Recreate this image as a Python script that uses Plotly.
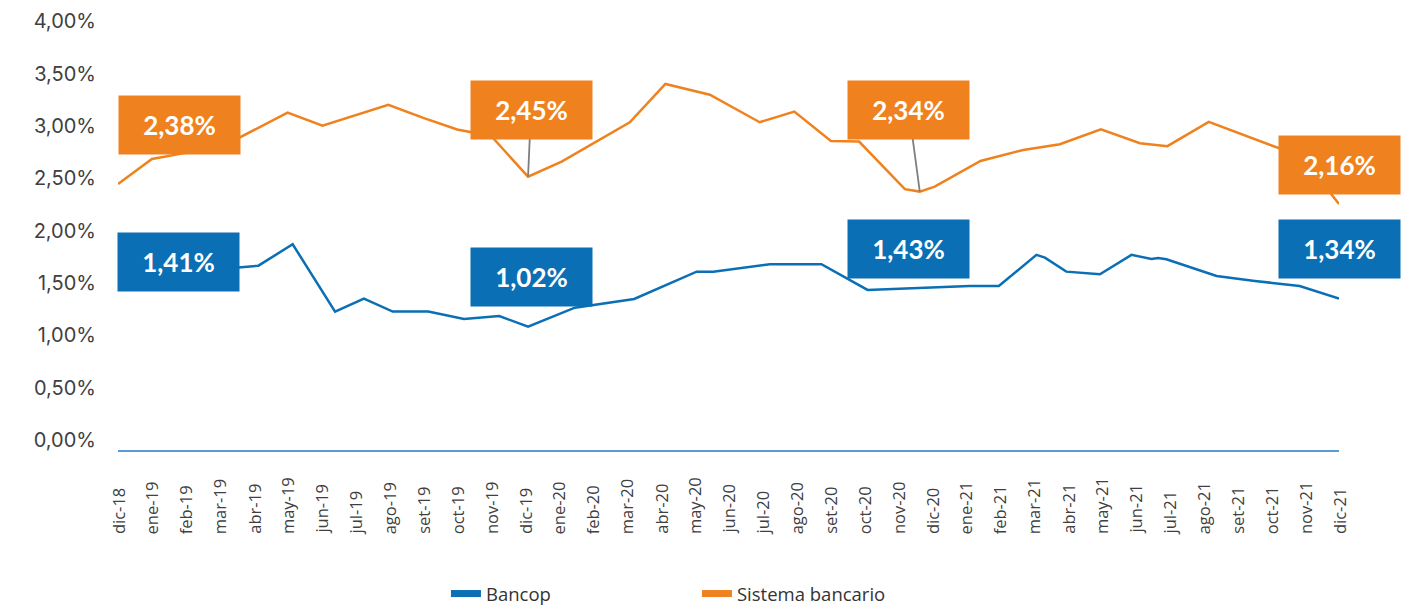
import plotly.graph_objects as go

# ---------------------------------------------------------------
# Data (percent values, x in months since dic-18)
# ---------------------------------------------------------------
month_labels = ['dic-18', 'ene-19', 'feb-19', 'mar-19', 'abr-19', 'may-19', 'jun-19',
                'jul-19', 'ago-19', 'set-19', 'oct-19', 'nov-19', 'dic-19', 'ene-20',
                'feb-20', 'mar-20', 'abr-20', 'may-20', 'jun-20', 'jul-20', 'ago-20',
                'set-20', 'oct-20', 'nov-20', 'dic-20', 'ene-21', 'feb-21', 'mar-21',
                'abr-21', 'may-21', 'jun-21', 'jul-21', 'ago-21', 'set-21', 'oct-21',
                'nov-21', 'dic-21']

y_ticks = [0, 0.5, 1, 1.5, 2, 2.5, 3, 3.5, 4]
y_ticktext = ['0,00%', '0,50%', '1,00%', '1,50%', '2,00%', '2,50%', '3,00%', '3,50%', '4,00%']

bancop_x = [0, 1.2, 2.2, 3.2, 4.14, 5.15, 6.40, 7.25, 8.10, 9.15, 10.20, 11.24, 12.09,
            13.47, 15.22, 17.06, 17.55, 19.22, 20.74, 22.1, 25.11, 25.97, 27.08, 27.33,
            27.96, 28.95, 29.88, 30.47, 30.67, 30.91, 32.39, 33.52, 34.84, 36]
bancop_y = [1.50, 1.64, 1.62, 1.64, 1.666, 1.871, 1.227, 1.351, 1.227, 1.227, 1.157, 1.185,
            1.083, 1.265, 1.348, 1.609, 1.609, 1.680, 1.680, 1.434, 1.472, 1.472, 1.769,
            1.743, 1.609, 1.584, 1.769, 1.730, 1.740, 1.728, 1.568, 1.520, 1.472, 1.351]

sistema_x = [0, 1, 2, 3, 5.0, 6.03, 7.97, 9, 10, 11, 12.09, 13.08, 15.09, 16.14, 17.45,
             18.92, 19.94, 21.02, 21.85, 23.2, 23.64, 24.08, 25.43, 26.69, 27.77, 28.98,
             30.13, 30.94, 32.16, 34.9, 36]
sistema_y = [2.447, 2.686, 2.744, 2.792, 3.129, 3.005, 3.203, 3.078, 2.967, 2.906, 2.517,
             2.661, 3.037, 3.403, 3.300, 3.037, 3.139, 2.858, 2.852, 2.397, 2.374, 2.422,
             2.667, 2.772, 2.827, 2.970, 2.837, 2.808, 3.040, 2.708, 2.256]

# callout labels
callouts_bancop = ['1,41%', '1,02%', '1,43%', '1,34%']
callouts_sistema = ['2,38%', '2,45%', '2,34%', '2,16%']

BLUE = '#0A6FB4'
ORANGE = '#EF821E'

fig = go.Figure()

fig.add_trace(go.Scatter(x=bancop_x, y=bancop_y, mode='lines', name='Bancop',
                         line=dict(color=BLUE, width=2.5), showlegend=False))
fig.add_trace(go.Scatter(x=sistema_x, y=sistema_y, mode='lines', name='Sistema bancario',
                         line=dict(color=ORANGE, width=2.5), showlegend=False))

# legend swatches (thick bars like the original)
fig.add_trace(go.Scatter(x=[None], y=[None], mode='lines', name='Bancop',
                         line=dict(color=BLUE, width=7)))
fig.add_trace(go.Scatter(x=[None], y=[None], mode='lines', name='Sistema bancario',
                         line=dict(color=ORANGE, width=7)))

# callout boxes
box_font = dict(family='Lato', size=26, color='white', weight=700)
# (text, color, x, y, dx, dy, leader)
callout_specs = [
    (callouts_sistema[0], ORANGE, sistema_x[0], sistema_y[0], 61, -59, False),
    (callouts_bancop[0], BLUE, bancop_x[0], bancop_y[0], 60, -21, False),
    (callouts_sistema[1], ORANGE, sistema_x[10], sistema_y[10], 3, -67, True),
    (callouts_bancop[1], BLUE, bancop_x[12], bancop_y[12], 3, -50, False),
    (callouts_sistema[2], ORANGE, sistema_x[20], sistema_y[20], -11, -82, True),
    (callouts_bancop[2], BLUE, bancop_x[19], bancop_y[19], 41, -41, False),
    (callouts_sistema[3], ORANGE, sistema_x[-1], sistema_y[-1], 0, -39, False),
    (callouts_bancop[3], BLUE, bancop_x[-1], bancop_y[-1], 0, -50, False),
]
for txt, col, ux, vy, dx, dy, leader in callout_specs:
    if leader:
        fig.add_annotation(x=ux, y=vy, xref='x', yref='y', text=txt, font=box_font,
                           bgcolor=col, width=121, height=58, borderpad=0,
                           showarrow=True, arrowhead=0, arrowwidth=1.8,
                           arrowcolor='#7F7F7F', ax=dx, ay=dy, standoff=0)
    else:
        fig.add_annotation(x=ux, y=vy, xref='x', yref='y', text=txt, font=box_font,
                           bgcolor=col, width=121, height=58, borderpad=0,
                           showarrow=False, xshift=dx, yshift=-dy,
                           xanchor='center', yanchor='middle')

# month labels, rotated and bottom-aligned like the original
for i, lab in enumerate(month_labels):
    fig.add_annotation(x=i, xref='x', y=-0.196, yref='paper', text=lab,
                       textangle=-90, showarrow=False, xanchor='center',
                       yanchor='bottom',
                       font=dict(family='Open Sans', size=16.5, color='#404040'))

fig.update_xaxes(range=[0, 36], showgrid=False, zeroline=False, showticklabels=False,
                 showline=True, linecolor='#5B9BD5', linewidth=2, ticks='',
                 automargin=False)
fig.update_yaxes(range=[-0.0956, 4.1], tickmode='array', tickvals=y_ticks,
                 ticktext=y_ticktext, showgrid=False, zeroline=False,
                 showline=False, ticks='', ticklabelstandoff=21, automargin=False,
                 tickfont=dict(family='Inter', size=20, color='#404040'))

fig.update_layout(
    width=1420, height=608, autosize=False,
    margin=dict(l=118, r=81, t=11, b=158),
    plot_bgcolor='white', paper_bgcolor='white',
    showlegend=True,
    legend=dict(orientation='h', x=0.2686, xanchor='left',
                yref='container', y=0.023, yanchor='middle',
                entrywidth=206, itemwidth=30,
                font=dict(family='Open Sans', size=18.5, color='#333333')),
)

# drop the default page margin so the chart sits at the window origin
fig.write_html("out.html", config={'displayModeBar': False, 'responsive': False},
               post_script="document.body.style.margin='0';")
